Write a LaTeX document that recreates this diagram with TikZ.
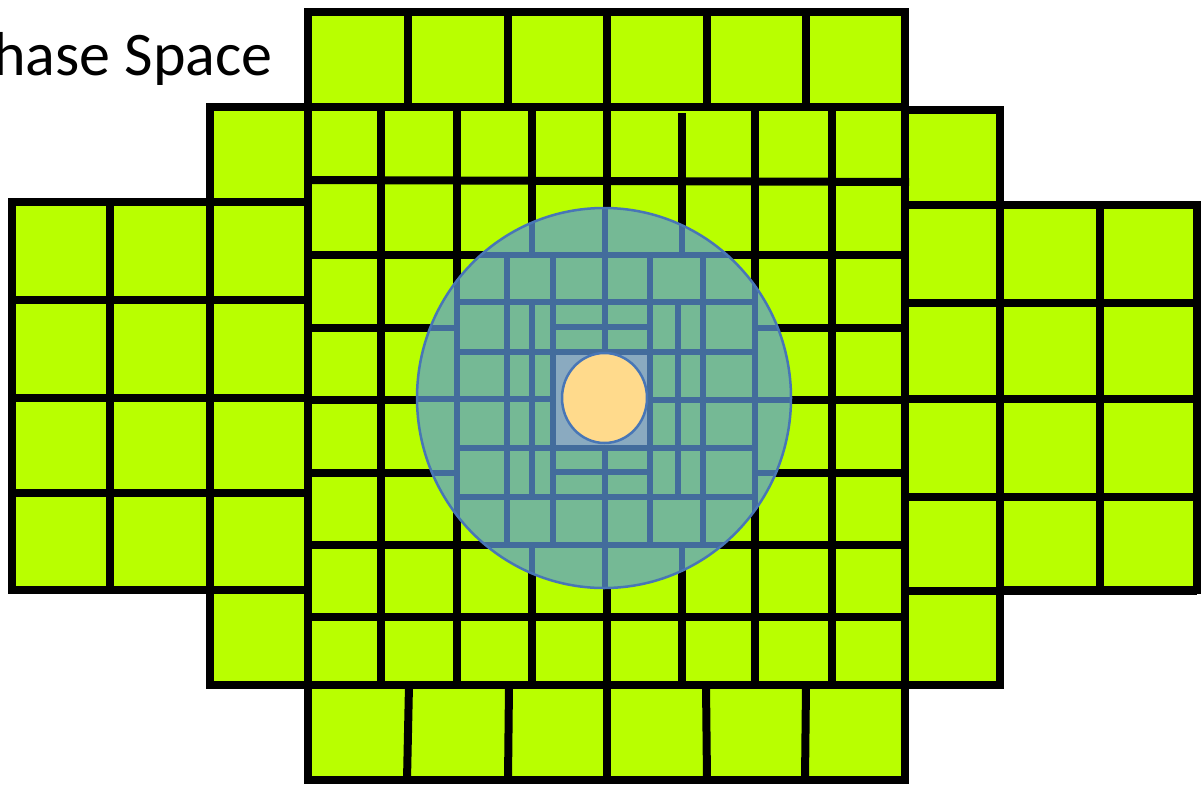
\documentclass[tikz,border=0pt]{standalone}
\usepackage{fontspec}
\setmainfont{Carlito}
\begin{document}
\begin{tikzpicture}
% Phase space sketch, coordinates in pixels from the top left
\def\pxsz{0.02cm}
\providecommand{\psGridLineColor}{black}
\providecommand{\psGridLineWidth}{0.16cm}
\providecommand{\psFineLineWidth}{0.135cm}
\providecommand{\psRimLineWidth}{0.05cm}
\begin{scope}[x=\pxsz, y=-\pxsz, line join=miter]
  \useasboundingbox (0,0) rectangle (1203,785);
  % Title, partly cut off at the left edge
  \node[anchor=base east, inner sep=0pt, font=\fontsize{35.3}{40}\selectfont] (title) at (273,75) {Phase Space};
  % Filled cells
  \begin{scope}[fill={rgb,1:red,0.725;green,1.000;blue,0.000}]
    \fill (308,12) rectangle (905,107);
    \fill (308,107) rectangle (905,685);
    \fill (308,685) rectangle (905,780);
    \fill (210,107) rectangle (308,685);
    \fill (12,202) rectangle (210,590);
    \fill (905,110) rectangle (1000,685);
    \fill (1000,205) rectangle (1197,590);
  \end{scope}
  % Block outlines
  \begin{scope}[draw=\psGridLineColor, line width=\psGridLineWidth]
    \draw (308,12) rectangle (905,107);
    \draw (308,107) rectangle (905,685);
    \draw (308,685) rectangle (905,780);
    \draw (210,107) rectangle (308,685);
    \draw (12,202) rectangle (210,590);
    \draw (905,110) rectangle (1000,685);
    \draw (1000,205) rectangle (1197,590);
  \end{scope}
  % Vertical lines
  \begin{scope}[draw=\psGridLineColor, line width=\psGridLineWidth]
    \draw (408,12) -- (408,107);
    \draw (508,12) -- (508,107);
    \draw (607,12) -- (607,107);
    \draw (707,12) -- (707,103);
    \draw (806,12) -- (806,107);
    \draw (381,107) -- (381,685);
    \draw (457,107) -- (457,685);
    \draw (532,107) -- (532,685);
    \draw (607,107) -- (607,685);
    \draw (682,113) -- (682,685);
    \draw (755,107) -- (755,685);
    \draw (832,107) -- (832,685);
    \draw (409,685) -- (407,780);
    \draw (509,685) -- (508,780);
    \draw (607,685) -- (607,780);
    \draw (706,685) -- (707,780);
    \draw (806,685) -- (805,780);
    \draw (110,202) -- (110,590);
    \draw (1100,205) -- (1100,591);
  \end{scope}
  % Horizontal lines
  \begin{scope}[draw=\psGridLineColor, line width=\psGridLineWidth]
    \draw (308,180) -- (909,182);
    \draw (308,255) -- (905,255);
    \draw (308,328) -- (905,328);
    \draw (308,400) -- (905,400);
    \draw (308,473) -- (905,473);
    \draw (308,545) -- (905,545);
    \draw (308,617) -- (905,617);
    \draw (12,202) -- (308,202);
    \draw (12,300) -- (308,300);
    \draw (12,398) -- (308,398);
    \draw (12,493) -- (308,493);
    \draw (12,590) -- (308,590);
    \draw (905,205) -- (1197,205);
    \draw (905,303) -- (1197,303);
    \draw (905,399) -- (1197,399);
    \draw (905,497) -- (1197,497);
    \draw (905,591) -- (1197,591);
  \end{scope}
  % Refined region under the blue disc
  \fill[fill={rgb,1:red,0.459;green,0.725;blue,0.584}] (604,398) ellipse [x radius=187, y radius=190];
  \begin{scope}
    \clip (604,398) ellipse [x radius=187, y radius=190];
    \fill[fill={rgb,1:red,0.541;green,0.667;blue,0.753}] (553,352) rectangle (652,448);
    \begin{scope}[draw={rgb,1:red,0.263;green,0.424;blue,0.612}, line width=\psFineLineWidth]
      % coarse lines seen through the disc
      \draw (457,107) -- (457,685);
      \draw (755,107) -- (755,685);
      \draw (532,107) -- (532,255);
      \draw (532,545) -- (532,685);
      \draw (682,107) -- (682,255);
      \draw (682,545) -- (682,685);
      \draw (308,255) -- (905,255);
      \draw (308,545) -- (905,545);
      \draw (308,328) -- (457,328);
      \draw (755,328) -- (905,328);
      \draw (308,473) -- (457,473);
      \draw (755,473) -- (905,473);
      % fine lines
      \draw (507,255) -- (507,545);
      \draw (553,255) -- (553,545);
      \draw (650,255) -- (650,545);
      \draw (703,255) -- (703,545);
      \draw (605,107) -- (605,352);
      \draw (605,448) -- (605,685);
      \draw (457,302) -- (755,302);
      \draw (457,352) -- (755,352);
      \draw (457,448) -- (755,448);
      \draw (457,497) -- (755,497);
      \draw (308,399) -- (553,399);
      \draw (652,400) -- (905,400);
      % finest lines next to the core
      \draw (532,302) -- (532,497);
      \draw (678,302) -- (678,497);
      \draw (553,327) -- (652,327);
      \draw (553,472) -- (652,472);
    \end{scope}
  \end{scope}
  \draw[draw={rgb,1:red,0.282;green,0.463;blue,0.714}, line width=\psRimLineWidth] (604,398) ellipse [x radius=187, y radius=190];
  % Core
  \draw[fill={rgb,1:red,1.000;green,0.855;blue,0.549}, draw={rgb,1:red,0.282;green,0.463;blue,0.714}, line width=\psRimLineWidth] (604.5,398) ellipse [x radius=42.5, y radius=45];
\end{scope}
\end{tikzpicture}
\end{document}
